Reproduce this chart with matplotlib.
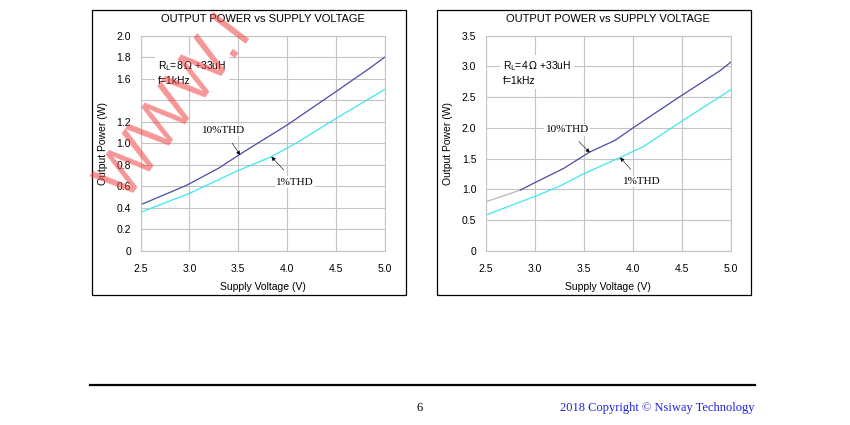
import matplotlib
matplotlib.use("Agg")
import matplotlib.pyplot as plt
from matplotlib.patches import Rectangle
from matplotlib.lines import Line2D

# ── Dados ──────────────────────────────────────────────────────────────────
TITULO = "OUTPUT POWER vs SUPPLY VOLTAGE"

# 8 ohm
v8_10 = [2.5, 2.97, 3.30, 3.52, 3.67, 4.0, 4.5, 4.85, 5.0]
p8_10 = [0.43, 0.61, 0.77, 0.90, 0.985, 1.17, 1.48, 1.70, 1.80]
v8_1 = [2.5, 3.0, 3.48, 3.84, 4.1, 4.5, 5.0]
p8_1 = [0.36, 0.535, 0.74, 0.876, 1.006, 1.23, 1.50]
yt8 = [0, 0.2, 0.4, 0.6, 0.8, 1.0, 1.2, 1.4, 1.6, 1.8, 2.0]
yl8 = ["0", "0.2", "0.4", "0.6", "0.8", "1.0", "1.2", "", "1.6", "1.8", "2.0"]

# 4 ohm
v4_10_cinza = [2.5, 2.85]
p4_10_cinza = [0.80, 0.99]
v4_10 = [2.85, 3.01, 3.29, 3.56, 3.82, 4.0, 4.48, 4.89, 5.0]
p4_10 = [0.99, 1.12, 1.34, 1.61, 1.80, 2.0, 2.51, 2.93, 3.07]
v4_1 = [2.5, 3.01, 3.26, 3.49, 3.87, 4.11, 4.48, 5.0]
p4_1 = [0.585, 0.894, 1.06, 1.25, 1.52, 1.70, 2.09, 2.62]
yt4 = [0, 0.5, 1.0, 1.5, 2.0, 2.5, 3.0, 3.5]
yl4 = ["0", "0.5", "1.0", "1.5", "2.0", "2.5", "3.0", "3.5"]

xt = [2.5, 3.0, 3.5, 4.0, 4.5, 5.0]
xl = ["2.5", "3.0", "3.5", "4.0", "4.5", "5.0"]
# ───────────────────────────────────────────────────────────────────────────

COR_10 = "#4a4aa6"
COR_1 = "#3ee6f2"
COR_GRADE = "#c4c4c4"
SANS = "Liberation Sans"
SERIF = "Liberation Serif"

plt.rcParams['font.family'] = [SANS, 'DejaVu Sans']

fig = plt.figure(figsize=(8.5, 4.25), dpi=100)

# molduras externas
for x0 in (0.1082, 0.514):
    fig.patches.append(Rectangle((x0, 0.306), 0.37, 0.6706, transform=fig.transFigure,
                                 fill=False, edgecolor="black", linewidth=0.9))


def montar_eixo(pos, yt, yl, ymax, rl_texto):
    ax = fig.add_axes(pos)
    ax.set_xlim(2.5, 5.0)
    ax.set_ylim(0, ymax)
    ax.set_xticks(xt)
    ax.set_xticklabels(xl, fontsize=7.5)
    ax.set_yticks(yt)
    ax.set_yticklabels(yl, fontsize=7.5)
    ax.tick_params(length=0, pad=7)
    ax.tick_params(axis='x', pad=9)
    ax.grid(True, color=COR_GRADE, linewidth=0.8)
    for s in ax.spines.values():
        s.set_color(COR_GRADE)
        s.set_linewidth(0.8)
    ax.set_title(TITULO, fontsize=8, pad=10)
    ax.set_xlabel("Supply Voltage (V)", fontsize=7.5, labelpad=6)
    ax.set_ylabel("Output Power (W)", fontsize=7.5, labelpad=6)
    ax.text(0.07, 0.89, rl_texto + "\nf=1kHz", transform=ax.transAxes, fontsize=7.5,
            va="top", ha="left", linespacing=1.35,
            bbox=dict(facecolor="white", edgecolor="none", pad=2))
    return ax


def rotular(ax, texto, alvo, pos_texto):
    ax.annotate(texto, xy=alvo, xytext=pos_texto, fontsize=8, family=SERIF,
                ha="center", va="center",
                bbox=dict(facecolor="white", edgecolor="none", pad=1),
                arrowprops=dict(arrowstyle="-|>", color="black", lw=0.4,
                                mutation_scale=6, shrinkA=6, shrinkB=0))


ax1 = montar_eixo([0.1655, 0.4094, 0.287, 0.5066], yt8, yl8, 2.0,
                  r"R$_{\mathrm{L}}$=8$\,\Omega$ +33uH")
ax1.plot(v8_10, p8_10, color=COR_10, linewidth=0.9)
ax1.plot(v8_1, p8_1, color=COR_1, linewidth=0.9)
rotular(ax1, "10%THD", (3.52, 0.89), (3.35, 1.12))
rotular(ax1, "1%THD", (3.84, 0.876), (4.08, 0.64))

ax2 = montar_eixo([0.5718, 0.4094, 0.2879, 0.5066], yt4, yl4, 3.5,
                  r"R$_{\mathrm{L}}$=4$\,\Omega$ +33uH")
ax2.plot(v4_10_cinza, p4_10_cinza, color="#b8b8b8", linewidth=0.9)
ax2.plot(v4_10, p4_10, color=COR_10, linewidth=0.9)
ax2.plot(v4_1, p4_1, color=COR_1, linewidth=0.9)
rotular(ax2, "10%THD", (3.56, 1.60), (3.33, 1.97))
rotular(ax2, "1%THD", (3.87, 1.52), (4.09, 1.13))

# marca d'água
fig.text(176 / 850, 1 - 108 / 425, "WWW.I", fontsize=46, color="#f04040", alpha=0.55,
         rotation=53, ha="center", va="center", family=SANS)

# rodapé
fig.add_artist(Line2D([0.106, 0.888], [1 - 385 / 425] * 2, transform=fig.transFigure,
                      color="black", linewidth=1.6))
fig.text(420 / 850, 1 - 408 / 425, "6", fontsize=9, family=SERIF, ha="center", va="center")
fig.text(755 / 850, 1 - 408 / 425, "2018 Copyright \u00a9 Nsiway Technology", fontsize=9,
         family=SERIF, color="#2020e0", ha="right", va="center")

fig.savefig("out.png", dpi=100)
